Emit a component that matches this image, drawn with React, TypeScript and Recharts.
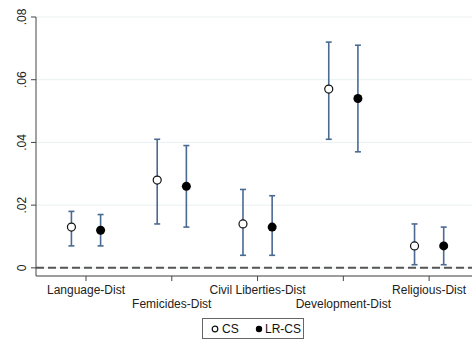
import React from 'react';
import { ComposedChart, Scatter, ErrorBar, XAxis, YAxis, CartesianGrid, ReferenceLine } from 'recharts';

const categories = ['Language-Dist', 'Femicides-Dist', 'Civil Liberties-Dist', 'Development-Dist', 'Religious-Dist'];

const csValue = [0.013, 0.028, 0.014, 0.057, 0.007];
const csLow = [0.007, 0.014, 0.004, 0.041, 0.001];
const csHigh = [0.018, 0.041, 0.025, 0.072, 0.014];

const lrValue = [0.012, 0.026, 0.013, 0.054, 0.007];
const lrLow = [0.007, 0.013, 0.004, 0.037, 0.001];
const lrHigh = [0.017, 0.039, 0.023, 0.071, 0.013];

const yTicks = [0, 0.02, 0.04, 0.06, 0.08];
const yTickLabels = ['0', '.02', '.04', '.06', '.08'];

const FONT = '"Liberation Sans", Arial, sans-serif';
const BAR_COLOR = '#4a6a93';
const OFFSET = 0.17;

function buildSeries(values: number[], lows: number[], highs: number[], shift: number) {
  return values.map((v, i) => ({
    x: i + 1 + shift,
    y: v,
    err: [v - lows[i], highs[i] - v],
  }));
}

const csData = buildSeries(csValue, csLow, csHigh, -OFFSET);
const lrData = buildSeries(lrValue, lrLow, lrHigh, OFFSET);

const XTick = (props: any) => {
  const { x, y, payload } = props;
  const i = payload.value - 1;
  const lower = i % 2 === 1;
  return (
    <text x={x} y={y + (lower ? 25 : 11)} textAnchor="middle" fontSize={12} fontFamily={FONT} fill="#222">
      {categories[i]}
    </text>
  );
};

const YTick = (props: any) => {
  const { x, y, payload } = props;
  const idx = yTicks.indexOf(payload.value);
  const cx = x - 7;
  return (
    <text
      x={cx}
      y={y}
      transform={`rotate(-90, ${cx}, ${y})`}
      textAnchor="middle"
      dominantBaseline="central"
      fontSize={12}
      fontFamily={FONT}
      fill="#222"
    >
      {yTickLabels[idx]}
    </text>
  );
};

const hollowDot = (props: any) => (
  <circle cx={props.cx} cy={props.cy} r={4} fill="#fff" stroke="#111" strokeWidth={1.2} />
);
const filledDot = (props: any) => <circle cx={props.cx} cy={props.cy} r={4.5} fill="#000" />;

export default function App() {
  return (
    <div style={{ position: 'absolute', left: 0, top: 0, width: 473, height: 340, background: '#fff' }}>
      <ComposedChart width={473} height={340} margin={{ top: 17, right: 1, bottom: 0, left: 0 }}>
        <CartesianGrid horizontal vertical={false} stroke="#e8f0f1" strokeWidth={1} />
        <XAxis
          type="number"
          dataKey="x"
          domain={[0.417, 5.5]}
          ticks={[1, 2, 3, 4, 5]}
          allowDataOverflow
          tick={<XTick />}
          tickSize={5}
          tickMargin={2}
          stroke="#444"
          height={64}
        />
        <YAxis
          type="number"
          dataKey="y"
          domain={[-0.0026, 0.08]}
          ticks={yTicks}
          allowDataOverflow
          tick={<YTick />}
          tickSize={5}
          tickMargin={2}
          stroke="#444"
          width={36}
        />
        <ReferenceLine y={0} stroke="#555" strokeWidth={2} strokeDasharray="8 4" />
        <Scatter data={csData} shape={hollowDot} isAnimationActive={false}>
          <ErrorBar dataKey="err" direction="y" width={3} stroke={BAR_COLOR} strokeWidth={1.6} />
        </Scatter>
        <Scatter data={lrData} shape={filledDot} isAnimationActive={false}>
          <ErrorBar dataKey="err" direction="y" width={3} stroke={BAR_COLOR} strokeWidth={1.6} />
        </Scatter>
      </ComposedChart>
      <div
        style={{
          position: 'absolute',
          left: 202,
          top: 318,
          width: 102,
          height: 21,
          boxSizing: 'border-box',
          border: '1px solid #666',
        }}
      >
        <svg width={100} height={19} style={{ position: 'absolute', left: 0, top: 0, overflow: 'visible' }}>
          <circle cx={12} cy={10} r={2.8} fill="#fff" stroke="#111" strokeWidth={1.2} />
          <text x={19} y={14} fontSize={12} fontFamily={FONT} fill="#111">CS</text>
          <circle cx={56} cy={10} r={3.2} fill="#000" />
          <text x={62} y={14} fontSize={12} fontFamily={FONT} fill="#111">LR-CS</text>
        </svg>
      </div>
    </div>
  );
}
